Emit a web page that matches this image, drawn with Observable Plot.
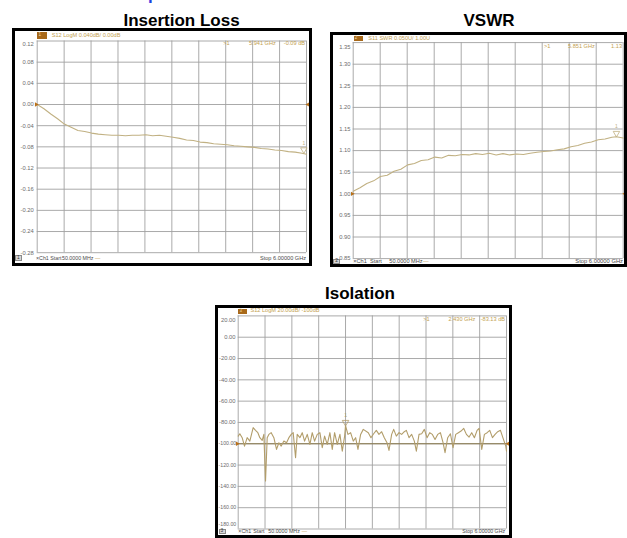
<!DOCTYPE html>
<html><head><meta charset="utf-8">
<script src="https://cdn.jsdelivr.net/npm/d3@7"></script>
<script src="https://cdn.jsdelivr.net/npm/@observablehq/plot@0.6"></script>
<style>
html,body{margin:0;padding:0;background:#fff;}
body{width:627px;height:538px;overflow:hidden;position:relative;font-family:"Liberation Sans",Arial,sans-serif;}
.title{position:absolute;font-weight:bold;font-size:17px;line-height:17px;color:#000;white-space:nowrap;transform:translateX(-50%);}
.blue{position:absolute;left:148px;top:-14.4px;font-weight:bold;font-size:17px;line-height:17px;color:#1f3fe0;}
.panel{position:absolute;border:3px solid #000;box-sizing:border-box;background:#fff;overflow:hidden;}
.panel svg{position:absolute;left:0;top:0;}
.t{position:absolute;white-space:nowrap;}
.bx{position:absolute;box-sizing:border-box;}
</style>
</head><body>
<div class="title" style="left:181.5px;top:11.6px">Insertion Loss</div>
<div class="title" style="left:489px;top:12px">VSWR</div>
<div class="title" style="left:360px;top:285.3px">Isolation</div>
<div class="blue">p</div>
<script>
// ---- data ----
const startGHz = 0.05, stopGHz = 6.0, divisions = 10;

const lossFreq = [0.05,0.20,0.35,0.50,0.65,0.80,0.95,1.10,1.25,1.40,1.55,1.70,1.85,2.00,2.15,2.30,2.45,2.60,2.75,2.90,3.05,3.20,3.35,3.50,3.65,3.80,3.95,4.10,4.25,4.40,4.55,4.70,4.85,5.00,5.15,5.30,5.45,5.60,5.75,5.90,6.00];
const lossDb   = [0.000,-0.008,-0.018,-0.027,-0.037,-0.043,-0.049,-0.051,-0.054,-0.056,-0.057,-0.058,-0.058,-0.059,-0.058,-0.058,-0.057,-0.059,-0.058,-0.060,-0.062,-0.064,-0.067,-0.068,-0.071,-0.072,-0.074,-0.075,-0.076,-0.078,-0.079,-0.080,-0.081,-0.083,-0.084,-0.086,-0.087,-0.089,-0.090,-0.092,-0.094];
const lossTicks = [0.12,0.08,0.04,0.00,-0.04,-0.08,-0.12,-0.16,-0.20,-0.24,-0.28];

const vswrFreq = [0.05,0.20,0.35,0.50,0.65,0.80,0.95,1.10,1.25,1.40,1.55,1.70,1.85,2.00,2.15,2.30,2.45,2.60,2.75,2.90,3.05,3.20,3.35,3.50,3.65,3.80,3.95,4.10,4.25,4.40,4.55,4.70,4.85,5.00,5.15,5.30,5.45,5.60,5.75,5.85,6.00];
const vswrVal  = [1.006,1.014,1.024,1.030,1.040,1.043,1.052,1.057,1.067,1.070,1.077,1.079,1.085,1.083,1.089,1.088,1.091,1.090,1.093,1.091,1.094,1.090,1.093,1.090,1.092,1.091,1.094,1.096,1.098,1.099,1.102,1.104,1.109,1.112,1.117,1.120,1.125,1.127,1.131,1.132,1.129];
const vswrTicks = [1.35,1.30,1.25,1.20,1.15,1.10,1.05,1.00,0.95,0.90,0.85];

const isoFreq = [0.05,0.086,0.138,0.190,0.249,0.308,0.382,0.434,0.486,0.530,0.582,0.619,0.656,0.693,0.730,0.782,0.841,0.900,0.952,1.004,1.063,1.122,1.174,1.226,1.270,1.322,1.359,1.418,1.470,1.522,1.581,1.640,1.692,1.744,1.803,1.862,1.914,1.966,2.025,2.084,2.136,2.188,2.247,2.306,2.358,2.410,2.430,2.484,2.543,2.602,2.654,2.706,2.765,2.824,
  2.935,2.994,3.054,3.113,3.172,3.231,3.290,3.350,3.394,3.453,3.498,3.557,3.616,3.675,3.734,3.779,3.838,3.897,3.956,4.001,4.060,4.119,4.178,4.238,4.297,4.356,4.415,4.474,4.534,4.593,4.637,4.696,4.756,4.815,4.874,4.933,4.992,5.052,5.111,5.170,5.229,5.288,5.348,5.392,5.451,5.510,5.570,5.629,5.688,5.747,5.806,5.866,5.925,5.984,6.000];
const isoDb = [-92.8,-90.6,-94.3,-102.2,-94.3,-97.5,-84.9,-87.4,-89.6,-94.3,-96.8,-91.2,-135.0,-94.3,-91.2,-89.6,-94.3,-105.3,-99.0,-102.2,-97.5,-99.0,-94.3,-91.2,-89.6,-113.1,-91.2,-94.3,-89.6,-97.5,-91.2,-100.6,-89.6,-97.5,-91.2,-89.6,-103.7,-92.8,-100.6,-89.6,-105.3,-89.6,-100.6,-91.2,-106.9,-92.8,-83.1,-91.2,-89.6,-97.5,-94.3,-105.3,-91.2,-86.5,
  -89.6,-94.3,-90.6,-87.4,-91.2,-88.7,-94.3,-99.0,-106.2,-91.2,-86.5,-92.8,-89.6,-91.2,-88.7,-87.4,-94.3,-91.2,-97.5,-106.9,-91.2,-90.6,-86.5,-94.3,-89.6,-91.2,-95.9,-91.2,-89.6,-99.0,-108.4,-94.3,-90.6,-103.7,-91.2,-89.6,-88.1,-85.6,-91.2,-93.7,-89.6,-94.3,-87.4,-85.6,-105.3,-91.2,-89.6,-87.4,-94.3,-91.2,-88.7,-87.4,-95.0,-102.2,-106.9];
const isoTicks = [20,0,-20,-40,-60,-80,-100,-120,-140,-160,-180];

// markers
const lossMarker = {f: 5.941, v: -0.092};
const vswrMarker = {f: 5.851, v: 1.132};
const isoMarker  = {f: 2.430, v: -83.13};

// ---- helpers ----
const gold = "#c3a150";
function txt(s, x, y, o = {}) {
  const size = o.size || 5.6;
  const e = document.createElement("span");
  e.className = "t";
  e.textContent = s;
  e.style.left = x + "px";
  e.style.top = (y - 0.49 * size) + "px";
  e.style.fontSize = size + "px";
  e.style.lineHeight = size + "px";
  e.style.color = o.color || gold;
  if (o.anchor === "end") e.style.transform = "translateX(-100%)";
  document.body.appendChild(e);
}
function rect(x, y, w, h, bg, border) {
  const e = document.createElement("div");
  e.className = "bx";
  Object.assign(e.style, {left: x + "px", top: y + "px", width: w + "px", height: h + "px", background: bg});
  if (border) e.style.border = "0.6px solid " + border;
  document.body.appendChild(e);
}

const xDivs = d3.range(divisions + 1).map(i => startGHz + i * (stopGHz - startGHz) / divisions);

function panel(cfg) {
  const [bl, bt, bw, bh] = cfg.box;
  const div = document.createElement("div");
  div.className = "panel";
  Object.assign(div.style, {left: bl + "px", top: bt + "px", width: bw + "px", height: bh + "px"});
  const il = bl + 3, it = bt + 3, iw = bw - 6, ih = bh - 6;
  const [gl, gt, gr, gb] = cfg.grid;
  const data = cfg.freq.map((f, i) => ({f, v: cfg.vals[i]}));
  const ticks = cfg.ticks;
  const small = cfg.smallAt === undefined ? -Infinity : cfg.smallAt;
  const axisStyle = {tickSize: 0, tickPadding: cfg.pad, tickFormat: d => d.toFixed(2), fontSize: 5.8, fill: "#6c6c6c", label: null};
  const smallStyle = {...axisStyle, fontSize: 5.2, tickPadding: 2};
  const last = ticks[ticks.length - 1];
  const mid = ticks.slice(1, -1);
  const svg = Plot.plot({
    width: iw, height: ih,
    marginLeft: gl - il, marginTop: gt - it, marginRight: il + iw - gr, marginBottom: it + ih - gb,
    x: {domain: [startGHz, stopGHz], axis: null},
    y: {domain: [last, ticks[0]], label: null},
    style: {background: "transparent", fontFamily: "Liberation Sans, Arial, sans-serif", fontSize: "5.8px", overflow: "hidden"},
    marks: [
      Plot.ruleX(xDivs, {stroke: "#a0a0a0", strokeWidth: 0.9}),
      Plot.ruleY(ticks, {stroke: "#a0a0a0", strokeWidth: 0.9}),
      cfg.refLine ? Plot.ruleY([cfg.ref], {stroke: "#8a7a4c", strokeWidth: 1}) : null,
      Plot.axisY(mid.filter(t => t > small), axisStyle),
      Plot.axisY(mid.filter(t => t <= small), smallStyle),
      Plot.axisY([ticks[0]], {...axisStyle, dy: cfg.topDy}),
      Plot.axisY([last], {...(last <= small ? smallStyle : axisStyle), dy: cfg.botDy}),
      Plot.line(data, {x: "f", y: "v", stroke: cfg.color, strokeWidth: 1.1}),
      Plot.dot([{f: startGHz, v: cfg.ref}], {x: "f", y: "v", symbol: "triangle", rotate: 90, r: 1.6, fill: "#b8701a", dx: -1}),
      Plot.dot([{f: stopGHz, v: cfg.ref}], {x: "f", y: "v", symbol: "triangle", rotate: -90, r: 1.6, fill: "#b8701a", dx: 1.5}),
      Plot.dot([cfg.marker], {x: "f", y: "v", symbol: "triangle", rotate: 180, r: 2.4, stroke: cfg.color, fill: "none", strokeWidth: 0.8, dy: -3.5}),
      Plot.text([cfg.marker], {x: "f", y: "v", text: () => "1", dy: -10, fontSize: 5, fill: cfg.color})
    ]
  });
  div.appendChild(svg);
  document.body.appendChild(div);
}

panel({box: [12, 28, 300, 238], grid: [36.7, 40.5, 306, 252.2], freq: lossFreq, vals: lossDb, ticks: lossTicks,
  ref: 0, pad: 3.4, topDy: 3.5, botDy: 0, color: "#c1b183", marker: lossMarker});
panel({box: [330, 32, 297, 235], grid: [352.7, 42.1, 622.7, 258.1], freq: vswrFreq, vals: vswrVal, ticks: vswrTicks,
  ref: 1, pad: 2.7, topDy: 4.5, botDy: 0, color: "#c1b183", marker: vswrMarker});
panel({box: [215, 305, 297, 233], grid: [237.7, 315.4, 506, 528.5], freq: isoFreq, vals: isoDb, ticks: isoTicks,
  ref: -100, refLine: true, smallAt: -100, pad: 2.7, topDy: 4, botDy: -5, color: "#b29d6a", marker: isoMarker});

// header strips
rect(37.3, 32.3, 9.4, 6.4, "#a8691a"); txt("1", 38.5, 35.5, {size: 4.5, color: "#f3dca5"});
txt("S12 LogM 0.040dB/ 0.00dB", 51.7, 35.5);
rect(353.5, 35.5, 9.8, 5.6, "#a8691a"); txt("2", 354.8, 38.3, {size: 4.5, color: "#f3dca5"});
txt("S11 SWR 0.050U/ 1.00U", 368.3, 38.3);
rect(238.3, 308.5, 9, 5.5, "#a8691a"); txt("3", 239.5, 311.2, {size: 4.5, color: "#f3dca5"});
txt("S12 LogM 20.00dB/ -100dB", 250.5, 311);

// marker readouts
txt(">1", 223.3, 43.5); txt("5.941 GHz", 249, 43.5); txt("-0.09 dB", 305, 43.5, {anchor: "end"});
txt(">1", 544, 46.5); txt("5.851 GHz", 568, 46.5); txt("1.13", 622, 46.5, {anchor: "end"});
txt(">1", 423.3, 319.3); txt("2.430 GHz", 448.5, 319.3); txt("-83.13 dB", 505, 319.3, {anchor: "end"});

// footers
const fc = "#4a4a4a", fs = 5.3;
rect(15, 255.3, 7, 5.6, "#d6d6d6", "#8a8a8a"); txt("1", 17, 258.2, {size: 4.8, color: "#333"});
txt("\u00d7Ch1", 36, 258.3, {color: fc, size: fs}); txt("Start", 50.3, 258.3, {color: fc, size: fs}); txt("50.0000 MHz", 62, 258.3, {color: fc, size: fs});
txt("\u2014", 95, 258.3, {color: gold, size: fs}); txt("Stop 6.00000 GHz", 306, 258.3, {color: fc, anchor: "end", size: 5.6});
rect(333.3, 259, 7, 5.2, "#d6d6d6", "#8a8a8a"); txt("2", 335.3, 261.7, {size: 4.8, color: "#333"});
txt("\u00d7Ch1", 353.3, 261.7, {color: fc}); txt("Start", 370, 261.7, {color: fc}); txt("50.0000 MHz", 389.3, 261.7, {color: fc});
txt("\u2014", 423, 261.7, {color: gold}); txt("Stop 6.00000 GHz", 623, 261.7, {color: fc, anchor: "end", size: 5.8});
rect(218.5, 529, 7, 5.4, "#d6d6d6", "#8a8a8a"); txt("3", 220.5, 531.8, {size: 4.8, color: "#333"});
txt("\u00d7Ch1", 238.3, 531.8, {color: fc, size: fs}); txt("Start", 253.3, 531.8, {color: fc, size: fs}); txt("50.0000 MHz", 268.3, 531.8, {color: fc, size: fs});
txt("\u2014", 301.7, 531.8, {color: gold, size: fs}); txt("Stop 6.00000 GHz", 505, 531.8, {color: fc, anchor: "end", size: 5.2});
</script>
</body></html>
